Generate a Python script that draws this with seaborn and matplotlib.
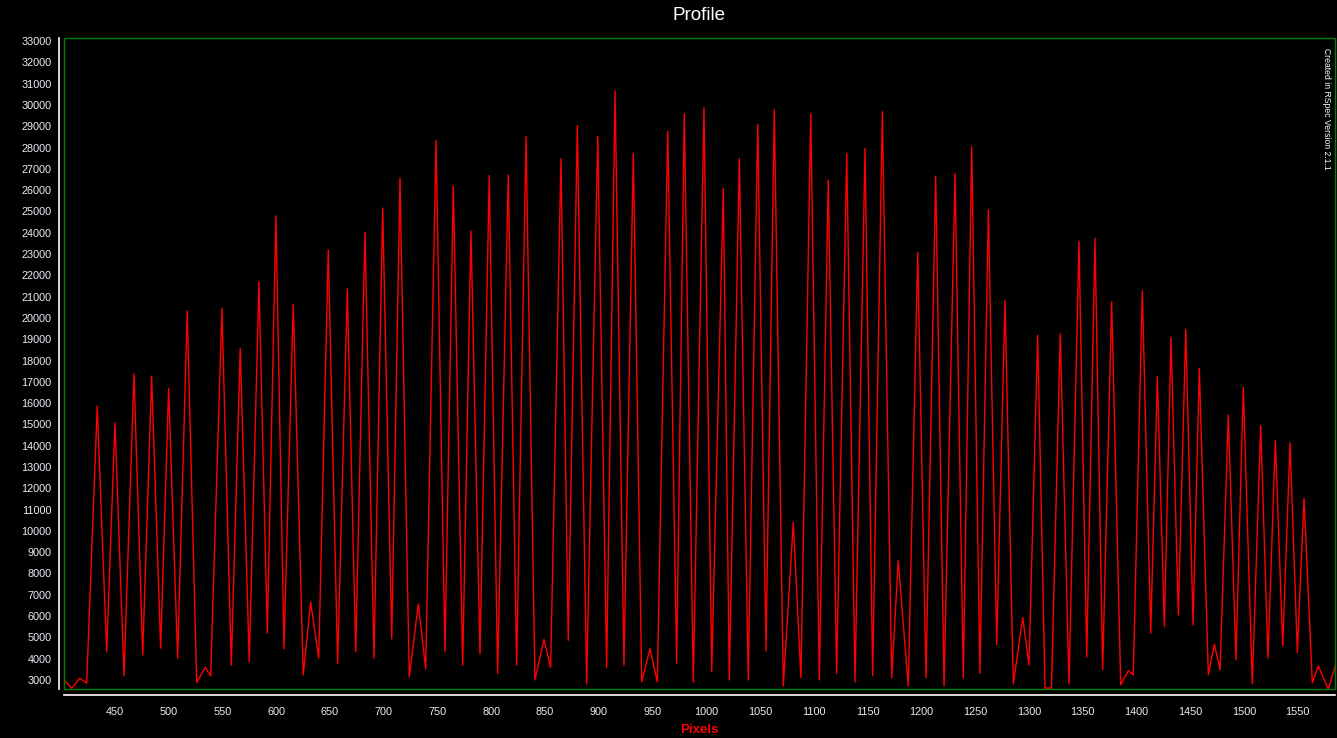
"""
Profil av spektrum (RSpec-export) ritad med seaborn
"""

import matplotlib
matplotlib.use("Agg")
import matplotlib.pyplot as plt
import pandas as pd
import seaborn as sns
from matplotlib.patches import Rectangle

sns.set_theme(style="dark")
plt.rcParams["font.family"] = ["Liberation Sans", "DejaVu Sans"]

# avlästa toppar och dalar i profilen
pixels = [
    402.6, 409.7, 417.4, 423.7, 433.5, 442.3, 450.0, 458.4, 467.7, 475.8,
    484.1, 492.5, 499.9, 508.3, 517.2, 526.0, 534.0, 539.0, 549.5, 558.2,
    566.5, 574.9, 583.9, 591.7, 599.7, 607.2, 615.8, 625.1, 632.0, 639.5,
    648.4, 657.1, 666.1, 673.9, 682.5, 690.9, 699.0, 707.4, 715.1, 723.7,
    732.1, 739.0, 748.6, 756.9, 764.7, 773.4, 781.1, 789.5, 798.1, 805.9,
    815.8, 823.6, 832.3, 840.6, 849.0, 855.2, 864.8, 871.6, 880.0, 888.7,
    899.0, 907.3, 915.1, 923.4, 932.1, 939.9, 947.6, 954.4, 964.1, 972.4,
    979.5, 987.9, 997.8, 1005.0, 1015.8, 1021.4, 1030.7, 1039.0, 1047.8, 1055.5,
    1063.2, 1071.6, 1080.9, 1088.0, 1097.1, 1105.1, 1113.4, 1121.2, 1130.6, 1138.3,
    1147.6, 1154.7, 1163.7, 1172.4, 1178.5, 1187.8, 1196.6, 1204.3, 1213.3, 1221.1,
    1231.3, 1239.0, 1246.8, 1254.5, 1262.3, 1270.1, 1277.8, 1285.5, 1294.3, 1300.1,
    1308.2, 1315.0, 1321.0, 1329.2, 1337.3, 1346.6, 1353.8, 1361.5, 1368.6, 1377.0,
    1385.4, 1392.5, 1397.1, 1405.5, 1413.3, 1419.5, 1426.0, 1432.2, 1439.0, 1445.9,
    1452.7, 1458.5, 1466.9, 1472.5, 1477.8, 1485.5, 1492.6, 1499.4, 1507.8, 1515.6,
    1522.4, 1529.2, 1536.1, 1542.9, 1549.7, 1555.9, 1563.6, 1569.2, 1578.5, 1585.6,
]
counts = [
    3000, 2610, 3080, 2850, 15860, 4330, 15080, 3190, 17370, 4170,
    17270, 4490, 16700, 4020, 20340, 2870, 3600, 3190, 20450, 3700,
    18570, 3860, 21700, 5190, 24790, 4470, 20650, 3240, 6660, 4030,
    23190, 3770, 21360, 4320, 24030, 4030, 25160, 4930, 26570, 3140,
    6570, 3520, 28320, 4320, 26190, 3680, 24080, 4220, 26680, 3300,
    26700, 3690, 28510, 3000, 4900, 3590, 27480, 4860, 29030, 2810,
    28510, 3590, 30650, 3690, 27730, 2910, 4470, 2910, 28760, 3790,
    29580, 2910, 29870, 3400, 26080, 3000, 27490, 3000, 29090, 4370,
    29770, 2720, 10400, 3110, 29580, 3000, 26470, 3300, 27730, 2910,
    27960, 3200, 29680, 3110, 8600, 2720, 23060, 3110, 26660, 2720,
    26790, 3110, 28020, 3300, 25060, 4660, 20820, 2810, 5930, 3690,
    19170, 2620, 2620, 19260, 2810, 23600, 4080, 23740, 3490, 20760,
    2770, 3440, 3240, 21280, 5190, 17240, 5500, 19090, 6050, 19470,
    5580, 17630, 3240, 4680, 3470, 15440, 3940, 16740, 2810, 14940,
    4020, 14240, 4600, 14140, 4280, 11530, 2870, 3660, 2560, 3780,
]

x_ticks = list(range(450, 1551, 50))
y_ticks = list(range(3000, 33001, 1000))

df = pd.DataFrame({"pixel": pixels, "count": counts})

fig = plt.figure(figsize=(13.37, 7.38), dpi=100, facecolor="black")
ax = fig.add_axes([0.04787, 0.0664, 0.95063, 0.88211])
ax.set_facecolor("black")

sns.lineplot(data=df, x="pixel", y="count", ax=ax, color="#ff0000",
             linewidth=1.0, sort=False, estimator=None)

ax.set_xlim(402.6, 1584.7)
ax.set_ylim(2577, 33142)
ax.set_xticks(x_ticks)
ax.set_yticks(y_ticks)
ax.grid(False)

# vita axellinjer utanför den gröna ramen
for side in ["top", "right"]:
    ax.spines[side].set_visible(False)
ax.spines["left"].set_position(("outward", 3.6))
ax.spines["bottom"].set_position(("outward", 4.3))
for side in ["left", "bottom"]:
    ax.spines[side].set_color("white")
    ax.spines[side].set_linewidth(1.2)
ax.tick_params(colors="white", labelcolor="#e8eef5", labelsize=7.8,
               length=4, width=1.2, direction="out")
ax.tick_params(axis="y", pad=1.5)
ax.tick_params(axis="x", pad=4.5)

ax.add_patch(Rectangle((0, 0), 1, 1, transform=ax.transAxes, fill=False,
                       edgecolor="#008000", linewidth=1.0, clip_on=False,
                       zorder=5))

ax.set_xlabel("Pixels", color="#ff0000", fontsize=9.5, fontweight="bold",
              labelpad=5.5)
ax.set_ylabel("")
ax.text(0.5, 1 - 15 / 738, "Profile", color="white", fontsize=13.5,
        ha="center", va="center", transform=fig.transFigure)
ax.texts[-1].set_x(699.5 / 1337)
ax.text(0.9937, 0.985, "Created in RSpec Version 2.1.1", color="white",
        fontsize=6.2, rotation=-90, ha="center", va="top",
        transform=ax.transAxes)

fig.savefig("out.png", dpi=100, facecolor="black")
